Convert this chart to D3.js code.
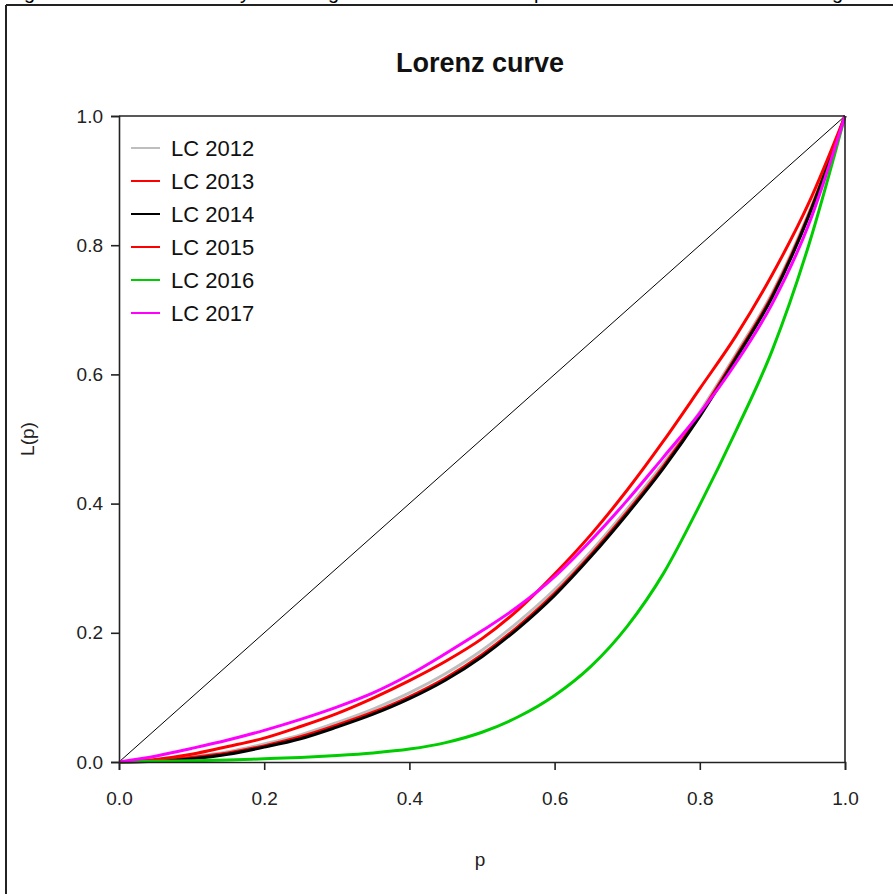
<!DOCTYPE html>
<html>
<head>
<meta charset="utf-8">
<script src="https://cdn.jsdelivr.net/npm/d3@7"></script>
<style>
  html, body { margin: 0; padding: 0; background: #fff; }
  svg { display: block; }
  text { font-family: "Liberation Sans", Arial, sans-serif; }
</style>
</head>
<body>
<svg id="chart" width="893" height="894"></svg>
<script>
// ---- data ----
const pGrid = [0, 0.05, 0.10, 0.15, 0.20, 0.25, 0.30, 0.35, 0.40, 0.45, 0.50, 0.55, 0.60, 0.65, 0.70, 0.75, 0.80, 0.85, 0.90, 0.95, 1.00];
const lc2012 = [0, 0.002, 0.008, 0.016, 0.028, 0.042, 0.061, 0.082, 0.107, 0.137, 0.173, 0.217, 0.267, 0.326, 0.392, 0.463, 0.542, 0.632, 0.727, 0.850, 1];
const lc2013 = [0, 0.002, 0.007, 0.014, 0.025, 0.039, 0.057, 0.077, 0.101, 0.130, 0.166, 0.210, 0.261, 0.321, 0.387, 0.458, 0.538, 0.628, 0.723, 0.847, 1];
const lc2014 = [0, 0.001, 0.005, 0.012, 0.023, 0.036, 0.054, 0.074, 0.098, 0.127, 0.163, 0.207, 0.258, 0.318, 0.384, 0.455, 0.535, 0.625, 0.720, 0.845, 1];
const lc2015 = [0, 0.004, 0.012, 0.024, 0.037, 0.055, 0.075, 0.099, 0.126, 0.156, 0.191, 0.236, 0.291, 0.352, 0.421, 0.497, 0.578, 0.660, 0.755, 0.865, 1];
const lc2016 = [0, 0.001, 0.002, 0.003, 0.005, 0.007, 0.010, 0.014, 0.020, 0.030, 0.046, 0.070, 0.103, 0.148, 0.210, 0.292, 0.398, 0.513, 0.638, 0.800, 1];
const lc2017 = [0, 0.009, 0.021, 0.034, 0.049, 0.066, 0.085, 0.107, 0.135, 0.168, 0.203, 0.241, 0.287, 0.343, 0.405, 0.472, 0.540, 0.618, 0.710, 0.832, 1];
const seriesNames = ["LC 2012", "LC 2013", "LC 2014", "LC 2015", "LC 2016", "LC 2017"];
const seriesColors = ["#bebebe", "#ff0000", "#000000", "#ff0000", "#00cd00", "#ff00ff"];
const xTicks = [0, 0.2, 0.4, 0.6, 0.8, 1.0];
const yTicks = [0, 0.2, 0.4, 0.6, 0.8, 1.0];
const titleText = "Lorenz curve";
const xLabel = "p";
const yLabel = "L(p)";

const seriesValues = [lc2012, lc2013, lc2014, lc2015, lc2016, lc2017];

// ---- layout ----
const svg = d3.select("#chart");
const plot = { left: 119, right: 845, top: 116, bottom: 762 };
const x = d3.scaleLinear().domain([0, 1]).range([plot.left, plot.right]);
const y = d3.scaleLinear().domain([0, 1]).range([plot.bottom, plot.top]);

// outer figure frame (cropped document page)
svg.append("line").attr("x1", 6).attr("x2", 893).attr("y1", 5).attr("y2", 5)
  .attr("stroke", "#222").attr("stroke-width", 2);
svg.append("line").attr("x1", 6).attr("x2", 6).attr("y1", 5).attr("y2", 894)
  .attr("stroke", "#222").attr("stroke-width", 2);

// caption above, cut off by the crop (only descenders visible)
const capGlyphs = [["g", 24], ["y", 240], ["g", 328], ["p", 534], ["g", 832]];
svg.append("g").selectAll("text").data(capGlyphs).enter().append("text")
  .attr("x", d => d[1]).attr("y", -1).attr("font-size", 20).attr("fill", "#000")
  .text(d => d[0]);

// title
svg.append("text").attr("x", (plot.left + plot.right) / 2 - 2).attr("y", 72)
  .attr("text-anchor", "middle").attr("font-weight", "bold").attr("font-size", 27)
  .attr("fill", "#111").text(titleText);

// diagonal equality line
svg.append("line")
  .attr("x1", x(0)).attr("y1", y(0)).attr("x2", x(1)).attr("y2", y(1))
  .attr("stroke", "#000").attr("stroke-width", 1);

// curves
const line = d3.line().x((d, i) => x(pGrid[i])).y(d => y(d)).curve(d3.curveMonotoneX);
seriesValues.forEach((vals, k) => {
  svg.append("path").datum(vals).attr("d", line)
    .attr("fill", "none").attr("stroke", seriesColors[k]).attr("stroke-width", 3)
    .attr("stroke-linejoin", "round");
});

// axes
const xAxis = d3.axisBottom(x).tickValues(xTicks).tickFormat(d3.format(".1f")).tickSize(8).tickPadding(22);
const gx = svg.append("g").attr("transform", `translate(0,${plot.bottom})`).call(xAxis);
const yAxis = d3.axisLeft(y).tickValues(yTicks).tickFormat(d3.format(".1f")).tickSize(8).tickPadding(8);
const gy = svg.append("g").attr("transform", `translate(${plot.left},0)`).call(yAxis);
[gx, gy].forEach(g => {
  g.select(".domain").attr("stroke", "#222").attr("stroke-width", 1.6);
  g.selectAll(".tick line").attr("stroke", "#222").attr("stroke-width", 1.6);
  g.selectAll(".tick text").attr("font-size", 19).attr("fill", "#222")
    .attr("font-family", "'Liberation Sans', Arial, sans-serif");
});

// box top & right
svg.append("line").attr("x1", plot.left).attr("x2", plot.right).attr("y1", plot.top).attr("y2", plot.top)
  .attr("stroke", "#222").attr("stroke-width", 1.6);
svg.append("line").attr("x1", plot.right).attr("x2", plot.right).attr("y1", plot.top).attr("y2", plot.bottom)
  .attr("stroke", "#222").attr("stroke-width", 1.6);

// axis titles
svg.append("text").attr("x", (plot.left + plot.right) / 2 - 2).attr("y", 866)
  .attr("text-anchor", "middle").attr("font-size", 19).attr("fill", "#222").text(xLabel);
svg.append("text").attr("transform", `translate(34,${(plot.top + plot.bottom) / 2}) rotate(-90)`)
  .attr("text-anchor", "middle").attr("font-size", 19).attr("fill", "#222").text(yLabel);

// legend
const leg = svg.append("g");
seriesNames.forEach((name, i) => {
  const yy = 148 + i * 33;
  leg.append("line").attr("x1", 131).attr("x2", 160).attr("y1", yy).attr("y2", yy)
    .attr("stroke", seriesColors[i]).attr("stroke-width", 2);
  leg.append("text").attr("x", 171).attr("y", yy).attr("dy", "0.36em")
    .attr("font-size", 22).attr("fill", "#111").text(name);
});
</script>
</body>
</html>
